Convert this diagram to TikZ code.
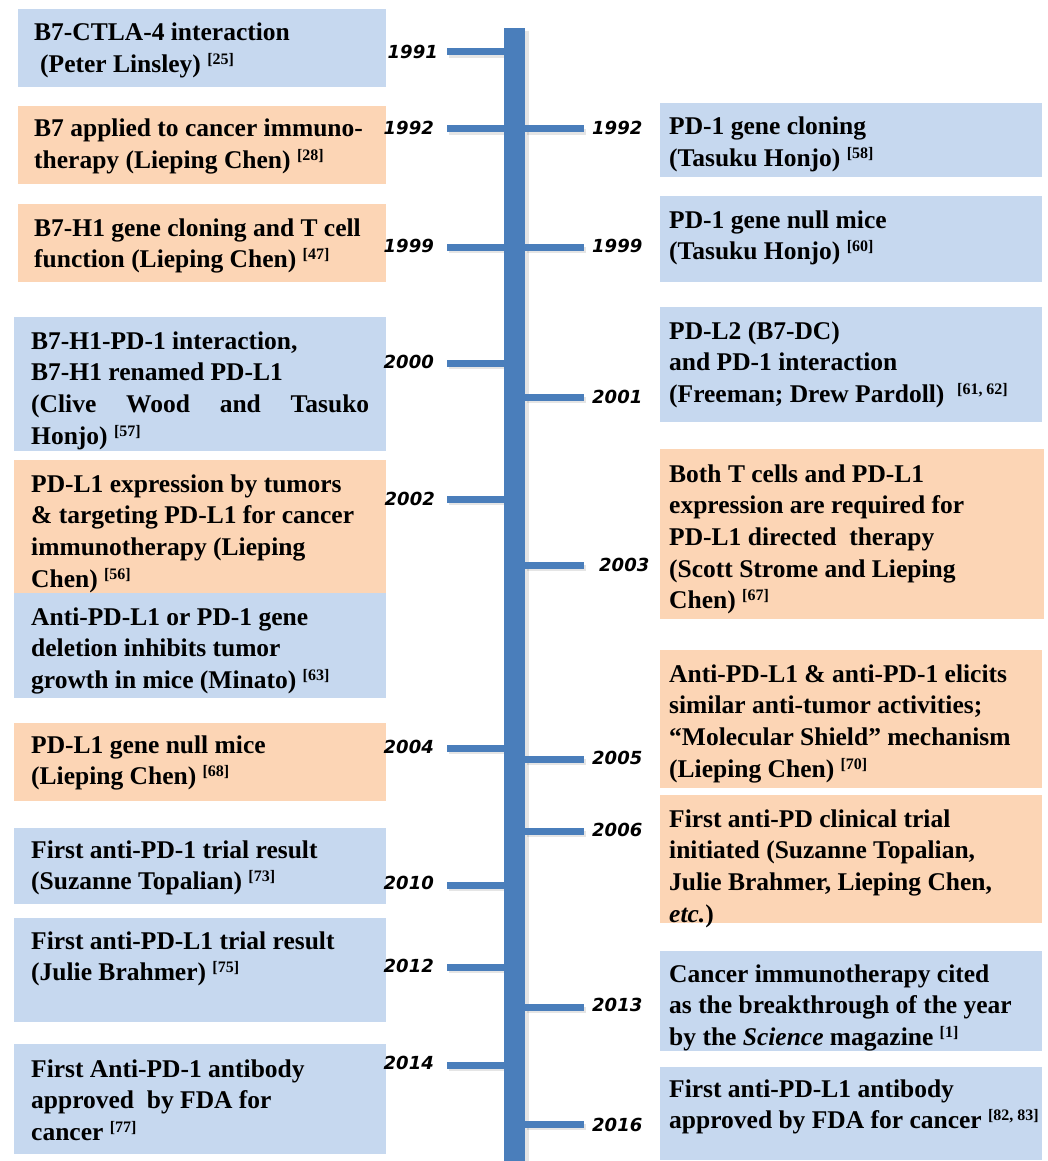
\documentclass[tikz,border=0pt]{standalone}
\usepackage{fontspec}
\setmainfont{Liberation Serif}
\newfontfamily\yearfont{DejaVu Sans}
\definecolor{barblue}{HTML}{4A7EBB}
\definecolor{boxblue}{HTML}{C6D8EF}
\definecolor{boxorange}{HTML}{FCD5B5}
\newcommand\rf[1]{\raisebox{8pt}{\fontsize{16}{16}\selectfont[#1]}}
\newcommand\lines[1]{\parbox[t]{400pt}{#1}}
\tikzset{
  bbox/.style={fill=boxblue, draw=none, inner sep=0pt, outer sep=0pt, anchor=north west},
  obox/.style={fill=boxorange, draw=none, inner sep=0pt, outer sep=0pt, anchor=north west},
  txt/.style={anchor=base west, inner sep=0pt, font=\fontsize{25.5}{31.7}\selectfont\bfseries},
  yrl/.style={anchor=east, inner sep=0pt, font=\yearfont\fontsize{18}{18}\selectfont\bfseries\itshape},
  yrr/.style={anchor=west, inner sep=0pt, font=\yearfont\fontsize{18}{18}\selectfont\bfseries\itshape},
  tickline/.style={line width=7pt, draw=barblue},
  tickshadow/.style={line width=6pt, draw=black, opacity=0.10},
}
\begin{document}
\begin{tikzpicture}[x=1pt,y=-1pt]
\useasboundingbox (0,0) rectangle (1048,1161);
% ---------- left boxes ----------
\node[bbox, minimum width=368pt, minimum height=78pt] (bL1) at (18,9) {};
\node[obox, minimum width=368pt, minimum height=78pt] (bL2) at (18,106) {};
\node[obox, minimum width=368pt, minimum height=78pt] (bL3) at (18,204) {};
\node[bbox, minimum width=372pt, minimum height=134pt] (bL4) at (14,317) {};
\node[obox, minimum width=372pt, minimum height=133pt] (bL5) at (14,460) {};
\node[bbox, minimum width=372pt, minimum height=105pt] (bL6) at (14,593) {};
\node[obox, minimum width=372pt, minimum height=78pt] (bL7) at (14,723) {};
\node[bbox, minimum width=372pt, minimum height=76pt] (bL8) at (14,828) {};
\node[bbox, minimum width=372pt, minimum height=104pt] (bL9) at (14,918) {};
\node[bbox, minimum width=372pt, minimum height=110pt] (bL10) at (14,1044) {};
% ---------- right boxes ----------
\node[bbox, minimum width=382pt, minimum height=74pt] (bR1) at (660,103) {};
\node[bbox, minimum width=382pt, minimum height=86pt] (bR2) at (660,196) {};
\node[bbox, minimum width=382pt, minimum height=115pt] (bR3) at (660,307) {};
\node[obox, minimum width=384pt, minimum height=170pt] (bR4) at (660,449) {};
\node[obox, minimum width=382pt, minimum height=138pt] (bR5) at (660,650) {};
\node[obox, minimum width=382pt, minimum height=128pt] (bR6) at (660,795) {};
\node[bbox, minimum width=382pt, minimum height=100pt] (bR7) at (660,951) {};
\node[bbox, minimum width=382pt, minimum height=93pt] (bR8) at (660,1067) {};
% ---------- left texts ----------
\node[txt] (tL1) at (34,41) {\lines{B7-CTLA-4 interaction\\\hspace*{6pt}(Peter Linsley) \rf{25}}};
\node[txt] (tL2) at (34,137) {\lines{B7 applied to cancer immuno-\\therapy (Lieping Chen) \rf{28}}};
\node[txt] (tL3) at (34,236) {\lines{B7-H1 gene cloning and T cell\\function (Lieping Chen) \rf{47}}};
\node[txt] (tL4) at (31,349) {\lines{B7-H1-PD-1 interaction,\\B7-H1 renamed PD-L1\\\makebox[338pt][s]{(Clive Wood and Tasuko}\\Honjo) \rf{57}}};
\node[txt] (tL5) at (31,492) {\lines{PD-L1 expression by tumors\\\& targeting PD-L1 for cancer\\immunotherapy (Lieping\\Chen) \rf{56}}};
\node[txt] (tL6) at (31,625) {\lines{Anti-PD-L1 or PD-1 gene\\deletion inhibits tumor\\growth in mice (Minato) \rf{63}}};
\node[txt] (tL7) at (31,753) {\lines{PD-L1 gene null mice\\(Lieping Chen) \rf{68}}};
\node[txt] (tL8) at (31,858) {\lines{First anti-PD-1 trial result\\(Suzanne Topalian) \rf{73}}};
\node[txt] (tL9) at (31,949) {\lines{First anti-PD-L1 trial result\\(Julie Brahmer) \rf{75}}};
\node[txt] (tL10) at (31,1077) {\lines{First Anti-PD-1 antibody\\approved\ \ by FDA for\\cancer \rf{77}}};
% ---------- right texts ----------
\node[txt] (tR1) at (669,135) {\lines{PD-1 gene cloning\\(Tasuku Honjo) \rf{58}}};
\node[txt] (tR2) at (669,228) {\lines{PD-1 gene null mice\\(Tasuku Honjo) \rf{60}}};
\node[txt] (tR3) at (669,339) {\lines{PD-L2 (B7-DC)\\and PD-1 interaction\\(Freeman; Drew Pardoll)\ \ \rf{61, 62}}};
\node[txt] (tR4) at (669,482) {\lines{Both T cells and PD-L1\\expression are required for\\PD-L1 directed\ \ therapy\\(Scott Strome and Lieping\\Chen) \rf{67}}};
\node[txt] (tR5) at (669,682) {\lines{Anti-PD-L1 \& anti-PD-1 elicits\\similar anti-tumor activities;\\“Molecular Shield” mechanism\\(Lieping Chen) \rf{70}}};
\node[txt] (tR6) at (669,827) {\lines{First anti-PD clinical trial\\initiated (Suzanne Topalian,\\Julie Brahmer, Lieping Chen,\\{\itshape etc.})}};
\node[txt] (tR7) at (669,982) {\lines{Cancer immunotherapy cited\\as the breakthrough of the year\\by the {\itshape Science} magazine \rf{1}}};
\node[txt] (tR8) at (669,1097) {\lines{First anti-PD-L1 antibody\\approved by FDA for cancer \rf{82, 83}}};
% ---------- bar and ticks ----------
\fill[black, opacity=0.10] (525,31) rectangle (529,1161);
\foreach \y in {52,129,247,363,499,748,885,967,1065}{
  \draw[tickshadow] (449,\y+3) -- (504,\y+3);
  \draw[tickline] (447,\y) -- (504,\y);
}
\foreach \y in {129,247,397,565,759,831,1007,1124}{
  \draw[tickshadow] (527,\y+3) -- (586,\y+3);
  \draw[tickline] (525,\y) -- (584,\y);
}
\fill[barblue] (504,28) rectangle (525,1161);
% ---------- year labels ----------
\node[yrl] (y1991) at (438,52) {1991};
\node[yrl] (y1992l) at (434,128) {1992};
\node[yrl] (y1999l) at (434,246) {1999};
\node[yrl] (y2000) at (434,362) {2000};
\node[yrl] (y2002) at (435,499) {2002};
\node[yrl] (y2004) at (434,747) {2004};
\node[yrl] (y2010) at (434,883) {2010};
\node[yrl] (y2012) at (434,966) {2012};
\node[yrl] (y2014) at (434,1063) {2014};
\node[yrr] (y1992r) at (592,128) {1992};
\node[yrr] (y1999r) at (592,246) {1999};
\node[yrr] (y2001) at (592,397) {2001};
\node[yrr] (y2003) at (599,565) {2003};
\node[yrr] (y2005) at (592,758) {2005};
\node[yrr] (y2006) at (592,830) {2006};
\node[yrr] (y2013) at (592,1005) {2013};
\node[yrr] (y2016) at (592,1125) {2016};
\end{tikzpicture}
\end{document}
